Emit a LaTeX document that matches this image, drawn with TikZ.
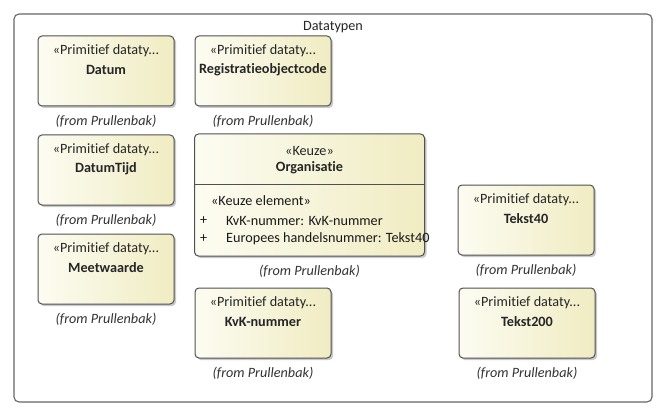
\documentclass[tikz,border=0pt]{standalone}
\usepackage{fontspec}
\setmainfont{Carlito}[Ligatures=NoCommon]
\usetikzlibrary{positioning,shadows}

\definecolor{boxline}{RGB}{80,80,80}
\definecolor{boxlight}{RGB}{252,252,242}
\definecolor{boxdark}{RGB}{240,236,194}
\definecolor{frameline}{RGB}{100,100,100}

\tikzset{
  dtbox/.style={draw=boxline, line width=1pt, rounded corners=4pt,
    left color=boxlight, right color=boxdark, inner sep=0pt,
    minimum width=136pt, minimum height=70pt,
    drop shadow={shadow xshift=2pt, shadow yshift=-2pt, fill=black!35, opacity=0.6}},
  stereo/.style={font=\fontsize{14.2}{16}\selectfont, text=black!85, inner sep=0pt},
  dtname/.style={font=\fontsize{14.2}{16}\selectfont\bfseries, text=black!85, inner sep=0pt},
  fromlbl/.style={font=\fontsize{14.2}{16}\selectfont\itshape, text=black!80, inner sep=0pt},
  attr/.style={font=\fontsize{14.2}{16}\selectfont, text=black!90, inner sep=0pt, anchor=west}
}

\begin{document}
\begin{tikzpicture}[x=1pt,y=-1pt]
  \useasboundingbox[fill=white] (0,0) rectangle (669,417);
  \draw[frameline, line width=1.1pt, rounded corners=5pt] (14,14) rectangle (652,402);
  \node[stereo] (title) at (333,27) {Datatypen};

  % primitieve datatypen
  \node[dtbox] (datum) at (106,71) {};
  \node[stereo] (datumst) at ([yshift=-15pt]datum.north) {«Primitief dataty...};
  \node[dtname] (datumnm) at ([yshift=-34pt]datum.north) {Datum};
  \node[fromlbl] (datumfr) at ([yshift=-15pt]datum.south) {(from Prullenbak)};

  \node[dtbox] (regcode) at (263,71) {};
  \node[stereo] (regcodest) at ([yshift=-15pt]regcode.north) {«Primitief dataty...};
  \node[dtname] (regcodenm) at ([yshift=-34pt]regcode.north) {Registratieobjectcode};
  \node[fromlbl] (regcodefr) at ([yshift=-15pt]regcode.south) {(from Prullenbak)};

  \node[dtbox] (datumtijd) at (106,170) {};
  \node[stereo] (datumtijdst) at ([yshift=-15pt]datumtijd.north) {«Primitief dataty...};
  \node[dtname] (datumtijdnm) at ([yshift=-34pt]datumtijd.north) {DatumTijd};
  \node[fromlbl] (datumtijdfr) at ([yshift=-15pt]datumtijd.south) {(from Prullenbak)};

  \node[dtbox] (meetw) at (106,269) {};
  \node[stereo] (meetwst) at ([yshift=-15pt]meetw.north) {«Primitief dataty...};
  \node[dtname] (meetwnm) at ([yshift=-34pt]meetw.north) {Meetwaarde};
  \node[fromlbl] (meetwfr) at ([yshift=-15pt]meetw.south) {(from Prullenbak)};

  \node[dtbox] (kvk) at (263,323) {};
  \node[stereo] (kvkst) at ([yshift=-15pt]kvk.north) {«Primitief dataty...};
  \node[dtname] (kvknm) at ([yshift=-34pt]kvk.north) {KvK-nummer};
  \node[fromlbl] (kvkfr) at ([yshift=-15pt]kvk.south) {(from Prullenbak)};

  \node[dtbox] (tekst40) at (526,220) {};
  \node[stereo] (tekst40st) at ([yshift=-15pt]tekst40.north) {«Primitief dataty...};
  \node[dtname] (tekst40nm) at ([yshift=-34pt]tekst40.north) {Tekst40};
  \node[fromlbl] (tekst40fr) at ([yshift=-15pt]tekst40.south) {(from Prullenbak)};

  \node[dtbox] (tekst200) at (527,323) {};
  \node[stereo] (tekst200st) at ([yshift=-15pt]tekst200.north) {«Primitief dataty...};
  \node[dtname] (tekst200nm) at ([yshift=-34pt]tekst200.north) {Tekst200};
  \node[fromlbl] (tekst200fr) at ([yshift=-15pt]tekst200.south) {(from Prullenbak)};

  % keuze
  \node[dtbox, minimum width=230pt, minimum height=122pt] (orga) at (309.5,195) {};
  \node[stereo] (orgast) at ([yshift=-17pt]orga.north) {«Keuze»};
  \node[dtname] (orgenm) at ([yshift=-34pt]orga.north) {Organisatie};
  \draw[boxline, line width=1pt] ([yshift=-51pt]orga.north west) -- ([yshift=-51pt]orga.north east);
  \node[attr] (orgael) at ([xshift=17pt,yshift=-67pt]orga.north west) {«Keuze element»};
  \node[attr] (orgap1) at ([xshift=6pt,yshift=-87pt]orga.north west) {+};
  \node[attr] (orgaa1) at ([xshift=32pt,yshift=-87pt]orga.north west) {KvK-nummer: KvK-nummer};
  \node[attr] (orgap2) at ([xshift=6pt,yshift=-105pt]orga.north west) {+};
  \node[attr] (orgaa2) at ([xshift=32pt,yshift=-105pt]orga.north west) {Europees handelsnummer: Tekst40};
  \node[fromlbl] (orgafr) at ([yshift=-15pt]orga.south) {(from Prullenbak)};
\end{tikzpicture}
\end{document}
